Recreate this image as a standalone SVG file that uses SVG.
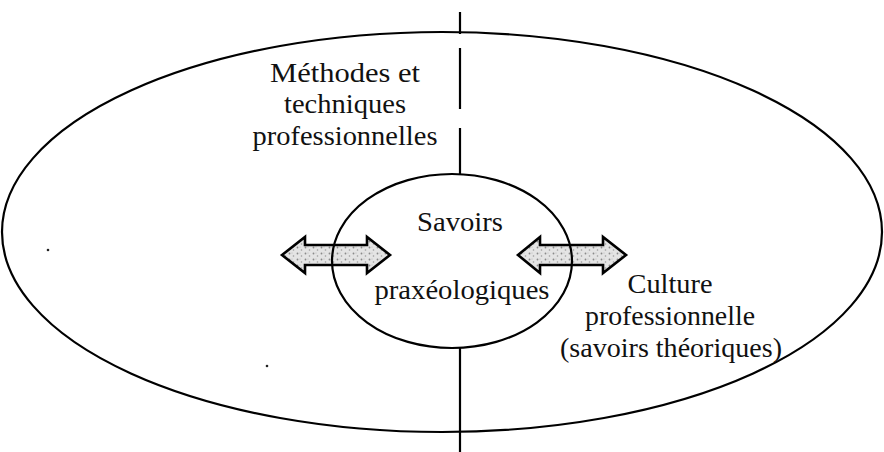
<svg xmlns="http://www.w3.org/2000/svg" width="884" height="452" viewBox="0 0 884 452">
  <style>
    .t { font-family: "Liberation Serif", "DejaVu Serif", serif; font-size: 28px; fill: #111; text-anchor: middle; }
    .ln { fill: none; stroke: #000; stroke-width: 2.2; }
    .arr { fill: url(#speck); stroke: #000; stroke-width: 2.6; stroke-linejoin: miter; }
  </style>
  <defs>
    <pattern id="speck" width="8" height="6" patternUnits="userSpaceOnUse">
      <rect width="8" height="6" fill="#e4e4e4"/>
      <circle cx="1.5" cy="1.5" r="0.9" fill="#8a8a8a"/>
      <circle cx="5.5" cy="4" r="0.8" fill="#9a9a9a"/>
      <circle cx="4" cy="1" r="0.5" fill="#b0b0b0"/>
    </pattern>
  </defs>
  <rect width="884" height="452" fill="#fff"/>

  <g id="outer">
    <ellipse class="ln" cx="442" cy="232" rx="440" ry="200"/>
    <text class="t" x="345" y="82" textLength="150" lengthAdjust="spacingAndGlyphs">Méthodes et</text>
    <text class="t" x="345" y="113" textLength="122" lengthAdjust="spacingAndGlyphs">techniques</text>
    <text class="t" x="345" y="145" textLength="185" lengthAdjust="spacingAndGlyphs">professionnelles</text>
    <text class="t" x="670" y="293" textLength="85" lengthAdjust="spacingAndGlyphs">Culture</text>
    <text class="t" x="670" y="325" textLength="170" lengthAdjust="spacingAndGlyphs">professionnelle</text>
    <text class="t" x="671" y="357" textLength="222" lengthAdjust="spacingAndGlyphs">(savoirs théoriques)</text>
    <circle cx="48" cy="250" r="1.3" fill="#222"/>
    <circle cx="267" cy="366" r="1.3" fill="#222"/>
  </g>

  <g id="connectors">
    <path class="arr" d="M282,255 L305,237 L305,245 L367,245 L367,237 L390,255 L367,273 L367,265 L305,265 L305,273 Z"/>
    <path class="arr" d="M518,255 L540,237 L540,245 L603,245 L603,237 L626,255 L603,273 L603,265 L540,265 L540,273 Z"/>
    <path class="ln" d="M460,12 V34 M460,48 V109 M460,128 V175 M460,348 V452"/>
  </g>

  <g id="inner">
    <ellipse class="ln" cx="452" cy="261" rx="120" ry="87"/>
    <text class="t" x="460" y="231" textLength="86" lengthAdjust="spacingAndGlyphs">Savoirs</text>
    <text class="t" x="462" y="299" textLength="175" lengthAdjust="spacingAndGlyphs">praxéologiques</text>
  </g>
</svg>
